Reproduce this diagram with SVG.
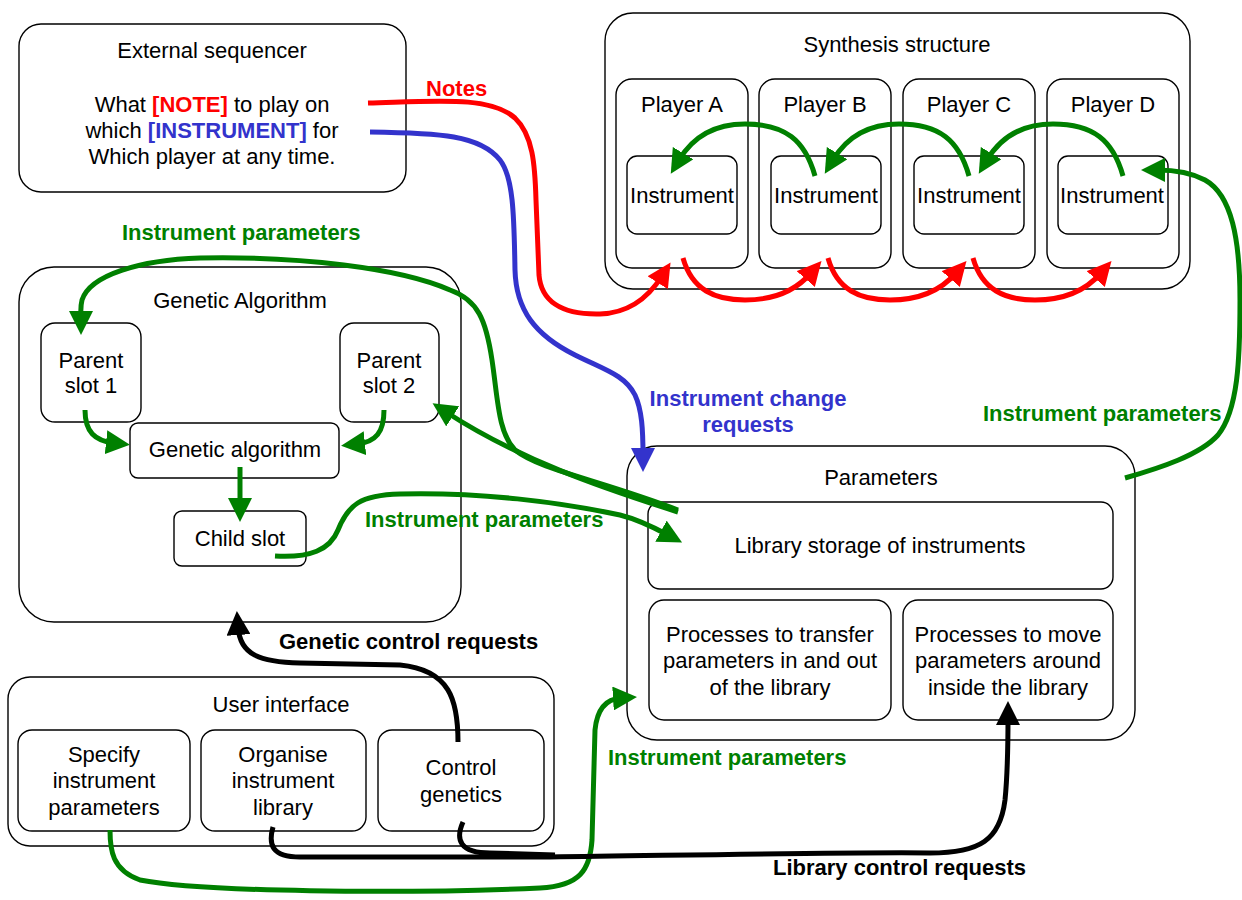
<svg xmlns="http://www.w3.org/2000/svg" width="1242" height="900" viewBox="0 0 1242 900">
  <style>
    .box { fill: #ffffff; stroke: #000000; stroke-width: 1.4; }
    .t { font-family: "Liberation Sans", Arial, sans-serif; font-size: 22px; fill: #000000; text-anchor: middle; }
    .lbl { font-family: "Liberation Sans", Arial, sans-serif; font-size: 22px; font-weight: bold; }
    .w { fill: none; stroke-width: 5; stroke-linecap: butt; stroke-linejoin: round; }
    .red { stroke: #ff0000; }
    .green { stroke: #008000; }
    .blue { stroke: #3333cc; }
    .black { stroke: #000000; }
  </style>
  <defs>
    <marker id="ah-red" viewBox="0 0 24 24" markerWidth="24" markerHeight="24" markerUnits="userSpaceOnUse" refX="8" refY="12" orient="auto">
      <path d="M0,0 L24,12 L0,24 z" fill="#ff0000"/>
    </marker>
    <marker id="ah-green" viewBox="0 0 24 24" markerWidth="24" markerHeight="24" markerUnits="userSpaceOnUse" refX="8" refY="12" orient="auto">
      <path d="M0,0 L24,12 L0,24 z" fill="#008000"/>
    </marker>
    <marker id="ah-blue" viewBox="0 0 24 24" markerWidth="24" markerHeight="24" markerUnits="userSpaceOnUse" refX="8" refY="12" orient="auto">
      <path d="M0,0 L24,12 L0,24 z" fill="#3333cc"/>
    </marker>
    <marker id="ah-black" viewBox="0 0 24 24" markerWidth="24" markerHeight="24" markerUnits="userSpaceOnUse" refX="8" refY="12" orient="auto">
      <path d="M0,0 L24,12 L0,24 z" fill="#000000"/>
    </marker>
  </defs>

  <!-- External sequencer -->
  <g id="external-sequencer">
    <rect class="box" x="19" y="24" width="387" height="168" rx="22"/>
    <text class="t" x="212" y="58">External sequencer</text>
    <text class="t" x="212" y="112">What <tspan fill="#ff0000" font-weight="bold">[NOTE]</tspan> to play on</text>
    <text class="t" x="212" y="138">which <tspan fill="#3333cc" font-weight="bold">[INSTRUMENT]</tspan> for</text>
    <text class="t" x="212" y="164">Which player at any time.</text>
  </g>

  <!-- Synthesis structure -->
  <g id="synthesis-structure">
    <rect class="box" x="605" y="13" width="585" height="276" rx="28"/>
    <text class="t" x="897" y="52">Synthesis structure</text>
  </g>
  <g id="player-a">
    <rect class="box" x="616" y="79" width="132" height="189" rx="16"/>
    <text class="t" x="682" y="112">Player A</text>
    <rect class="box" x="627" y="156" width="110" height="78" rx="10"/>
    <text class="t" x="682" y="203">Instrument</text>
  </g>
  <g id="player-b">
    <rect class="box" x="759" y="79" width="132" height="189" rx="16"/>
    <text class="t" x="825" y="112">Player B</text>
    <rect class="box" x="771" y="156" width="110" height="78" rx="10"/>
    <text class="t" x="826" y="203">Instrument</text>
  </g>
  <g id="player-c">
    <rect class="box" x="903" y="79" width="132" height="189" rx="16"/>
    <text class="t" x="969" y="112">Player C</text>
    <rect class="box" x="914" y="156" width="110" height="78" rx="10"/>
    <text class="t" x="969" y="203">Instrument</text>
  </g>
  <g id="player-d">
    <rect class="box" x="1047" y="79" width="132" height="189" rx="16"/>
    <text class="t" x="1113" y="112">Player D</text>
    <rect class="box" x="1058" y="156" width="110" height="78" rx="10"/>
    <text class="t" x="1112" y="203">Instrument</text>
  </g>

  <!-- Genetic Algorithm -->
  <g id="genetic-algorithm">
    <rect class="box" x="19" y="267" width="442" height="355" rx="35"/>
    <text class="t" x="240" y="308">Genetic Algorithm</text>
  </g>
  <g id="parent-slot-1">
    <rect class="box" x="41" y="323" width="100" height="99" rx="14"/>
    <text class="t" x="91" y="368">Parent</text>
    <text class="t" x="91" y="393">slot 1</text>
  </g>
  <g id="parent-slot-2">
    <rect class="box" x="340" y="323" width="99" height="99" rx="14"/>
    <text class="t" x="389" y="368">Parent</text>
    <text class="t" x="389" y="393">slot 2</text>
  </g>
  <g id="ga-process">
    <rect class="box" x="130" y="423" width="209" height="55" rx="8"/>
    <text class="t" x="235" y="457">Genetic algorithm</text>
  </g>
  <g id="child-slot">
    <rect class="box" x="174" y="511" width="132" height="55" rx="8"/>
    <text class="t" x="240" y="546">Child slot</text>
  </g>

  <!-- Parameters -->
  <g id="parameters">
    <rect class="box" x="627" y="446" width="508" height="294" rx="30"/>
    <text class="t" x="881" y="485">Parameters</text>
  </g>
  <g id="library-storage">
    <rect class="box" x="648" y="502" width="465" height="87" rx="12"/>
    <text class="t" x="880" y="553">Library storage of instruments</text>
  </g>
  <g id="transfer-processes">
    <rect class="box" x="649" y="600" width="242" height="120" rx="15"/>
    <text class="t" x="770" y="642">Processes to transfer</text>
    <text class="t" x="770" y="668">parameters in and out</text>
    <text class="t" x="770" y="695">of the library</text>
  </g>
  <g id="move-processes">
    <rect class="box" x="903" y="600" width="210" height="120" rx="15"/>
    <text class="t" x="1008" y="642">Processes to move</text>
    <text class="t" x="1008" y="668">parameters around</text>
    <text class="t" x="1008" y="695">inside the library</text>
  </g>

  <!-- User interface -->
  <g id="user-interface">
    <rect class="box" x="8" y="677" width="546" height="169" rx="22"/>
    <text class="t" x="281" y="712">User interface</text>
  </g>
  <g id="specify-parameters">
    <rect class="box" x="18" y="730" width="172" height="101" rx="14"/>
    <text class="t" x="104" y="762">Specify</text>
    <text class="t" x="104" y="788">instrument</text>
    <text class="t" x="104" y="815">parameters</text>
  </g>
  <g id="organise-library">
    <rect class="box" x="201" y="730" width="165" height="101" rx="14"/>
    <text class="t" x="283" y="762">Organise</text>
    <text class="t" x="283" y="788">instrument</text>
    <text class="t" x="283" y="815">library</text>
  </g>
  <g id="control-genetics">
    <rect class="box" x="378" y="730" width="166" height="101" rx="14"/>
    <text class="t" x="461" y="775">Control</text>
    <text class="t" x="461" y="802">genetics</text>
  </g>

  <!-- Connectors -->
  <g id="connectors">
    <!-- notes to players -->
    <path class="w red" d="M368,103 C440,101 490,96 515,118 C533,135 535,165 536,200 L539,275 C541,300 560,315 600,314 C632,313 650,295 662,276" marker-end="url(#ah-red)"/>
    <path class="w red" d="M683,258 C692,290 715,300 745,300 C778,300 798,288 811,273" marker-end="url(#ah-red)"/>
    <path class="w red" d="M828,258 C837,290 860,300 890,300 C923,300 943,288 956,273" marker-end="url(#ah-red)"/>
    <path class="w red" d="M973,258 C982,290 1005,300 1035,300 C1068,300 1088,288 1101,273" marker-end="url(#ah-red)"/>

    <!-- instrument change requests -->
    <path class="w blue" d="M370,132 C440,133 480,135 500,160 C514,178 514,220 515,270 C516,310 535,335 575,355 C605,370 625,375 635,395 C642,410 643,430 643,456" marker-end="url(#ah-blue)"/>

    <!-- instrument hand-over between players -->
    <path class="w green" d="M815,176 C805,140 785,124 745,124 C710,124 691,140 679,160" marker-end="url(#ah-green)"/>
    <path class="w green" d="M969,176 C959,140 939,124 899,124 C864,124 845,140 833,160" marker-end="url(#ah-green)"/>
    <path class="w green" d="M1123,176 C1113,140 1093,124 1053,124 C1018,124 999,140 987,160" marker-end="url(#ah-green)"/>

    <!-- parameters to player D -->
    <path class="w green" d="M1125,478 C1160,468 1200,455 1218,435 C1238,410 1240,360 1240,300 C1240,240 1232,195 1205,180 C1190,172 1175,170 1157,170" marker-end="url(#ah-green)"/>

    <!-- library to parent slots -->
    <path class="w green" d="M678,510 C600,480 540,470 515,450 C498,432 498,400 492,360 C486,320 478,300 450,290 C400,268 300,256 200,258 C140,260 90,275 82,300 C80,308 81,314 81,319" marker-end="url(#ah-green)"/>
    <path class="w green" d="M678,512 C600,487 520,460 446,412" marker-end="url(#ah-green)"/>

    <!-- child slot to library -->
    <path class="w green" d="M275,556 C310,558 330,550 338,530 C348,505 360,495 400,494 C480,492 560,502 620,515 C640,520 655,528 668,535" marker-end="url(#ah-green)"/>

    <!-- inside the genetic algorithm -->
    <path class="w green" d="M85,410 C85,432 95,441 114,443" marker-end="url(#ah-green)"/>
    <path class="w green" d="M384,410 C384,432 376,442 357,444" marker-end="url(#ah-green)"/>
    <path class="w green" d="M240,467 L240,506" marker-end="url(#ah-green)"/>

    <!-- user interface to parameters -->
    <path class="w green" d="M110,830 C110,850 112,870 140,880 C200,892 400,894 540,888 C580,886 590,870 592,840 L595,730 C597,710 605,699 621,698" marker-end="url(#ah-green)"/>

    <!-- genetic control requests -->
    <path class="w black" d="M458,742 C458,700 450,670 400,665 L300,663 C260,662 240,655 238,627" marker-end="url(#ah-black)"/>

    <!-- library control requests -->
    <path class="w black" d="M273,827 C268,845 272,857 300,857 L550,857 C700,855 850,852 930,853 C980,853 1000,840 1005,800 C1008,770 1008,740 1008,717" marker-end="url(#ah-black)"/>
    <path class="w black" d="M463,822 C455,840 460,853 490,853 L555,855"/>

    <!-- connector labels -->
    <text class="lbl" x="426" y="96" fill="#ff0000">Notes</text>
    <text class="lbl" x="122" y="240" fill="#008000">Instrument parameters</text>
    <text class="lbl" x="365" y="527" fill="#008000">Instrument parameters</text>
    <text class="lbl" x="983" y="421" fill="#008000">Instrument parameters</text>
    <text class="lbl" x="608" y="765" fill="#008000">Instrument parameters</text>
    <text class="lbl" x="748" y="406" fill="#3333cc" text-anchor="middle">Instrument change</text>
    <text class="lbl" x="748" y="432" fill="#3333cc" text-anchor="middle">requests</text>
    <text class="lbl" x="279" y="649" fill="#000000">Genetic control requests</text>
    <text class="lbl" x="773" y="875" fill="#000000">Library control requests</text>
  </g>
</svg>
